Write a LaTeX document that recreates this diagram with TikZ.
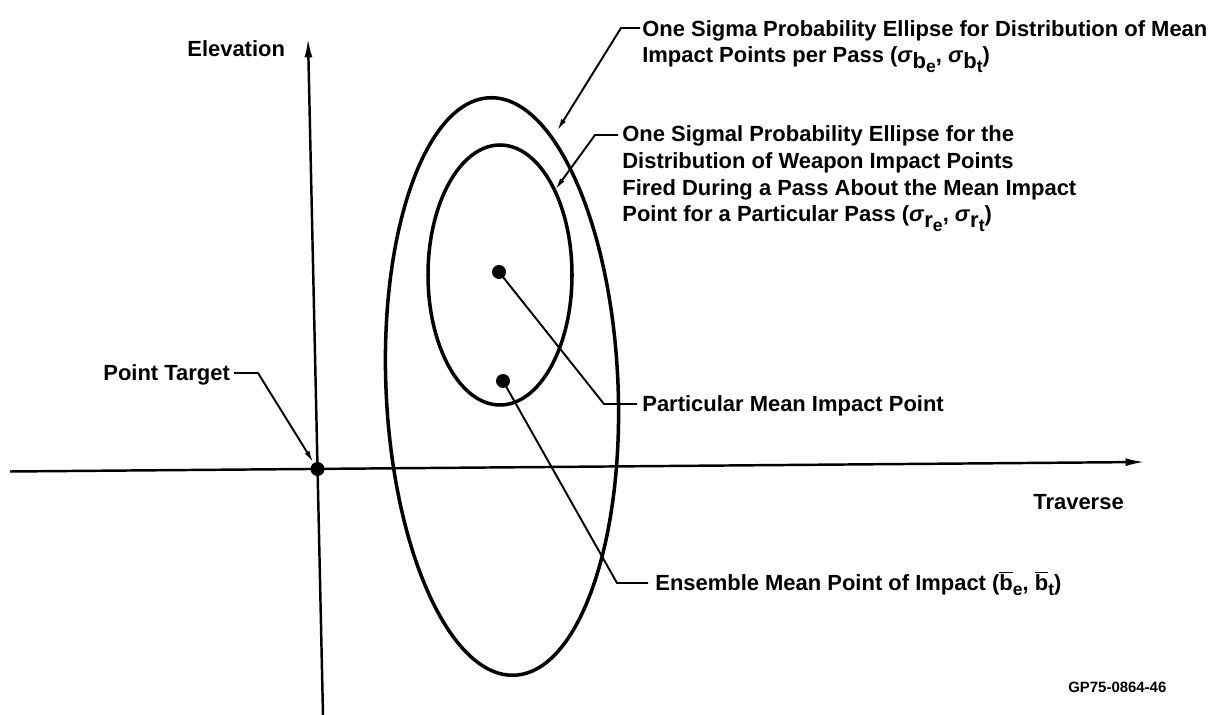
\documentclass[tikz,border=0pt]{standalone}
\usepackage{fontspec}
\setmainfont{Liberation Sans}
\usetikzlibrary{arrows.meta}
\newcommand\dn[1]{\raisebox{-0.45ex}{#1}}
\newcommand\dnn[1]{\raisebox{-0.35ex}{\fontsize{10}{10}\selectfont #1}}
\newcommand\bb{\ensuremath{\overline{\mbox{b}}}}
\begin{document}
\begin{tikzpicture}[x=0.02cm,y=-0.02cm,
  lbl/.style={font=\fontsize{12.5}{15.2}\selectfont\bfseries, inner sep=0pt, anchor=base west, align=left},
  axis/.style={line width=1.4pt, -{Latex[length=11pt,width=4.5pt]}},
  ell/.style={line width=2pt},
  lead/.style={line width=1.1pt},
  tip/.style={-{Latex[length=7pt,width=3pt]}},
  dot/.style={circle, fill, inner sep=0pt, minimum size=0.28cm}]
\useasboundingbox (0,0) rectangle (1221,715);
% axes
\coordinate (ya) at (323,715);
\coordinate (yb) at (308,38);
\coordinate (xa) at (10,471.5);
\coordinate (xb) at (1145,462);
\draw[axis] (ya) -- (yb);
\draw[axis] (xa) -- (xb);
% ellipses
\draw[ell, rotate around={2.5:(502,386.5)}] (502,386.5) ellipse [x radius=116, y radius=289];
\draw[ell] (500,275) ellipse [x radius=72, y radius=130];
% dots
\node[dot] (pt) at (317.5,469) {};
\node[dot] (pm) at (499,272) {};
\node[dot] (em) at (503,381) {};
% labels
\node[lbl] (elev) at (187,57) {Elevation};
\node[lbl] (trav) at (1033,510) {Traverse};
\node[lbl] (ptl) at (103,381) {Point Target};
\node[lbl] (l1) at (642,63) {One Sigma Probability Ellipse for Distribution of Mean\\Impact Points per Pass (\textit{σ}\dn{b\dnn{e}}, \textit{σ}\dn{b\dnn{t}})};
\node[lbl] (l2) at (622,222) {One Sigmal Probability Ellipse for the\\Distribution of Weapon Impact Points\\Fired During a Pass About the Mean Impact\\Point for a Particular Pass (\textit{σ}\dn{r\dnn{e}}, \textit{σ}\dn{r\dnn{t}})};
\node[lbl] (l3) at (642,412) {Particular Mean Impact Point};
\node[lbl] (l4) at (655,591) {Ensemble Mean Point of Impact (\bb\dnn{e}, \bb\dnn{t})};
\node[font=\fontsize{8.5}{10}\selectfont\bfseries, inner sep=0pt, anchor=base west] (code) at (1068,693) {GP75-0864-46};
% leaders
\coordinate (ptk) at (258,373);
\coordinate (ok) at (621,28);
\coordinate (oe) at (557,131);
\coordinate (ik) at (595,135);
\coordinate (ie) at (555,190);
\coordinate (pk) at (604,404);
\coordinate (ek) at (617,583);
\draw[lead,tip] (ptl.east |- ptk) ++(4,0) -- (ptk) -- (pt);
\draw[lead,tip] (l1.west |- ok) ++(-2,0) -- (ok) -- (oe);
\draw[lead,tip] (l2.west |- ik) ++(-4,0) -- (ik) -- (ie);
\draw[lead] (l3.west |- pk) ++(-5,0) -- (pk) -- (pm.center);
\draw[lead] (l4.west |- ek) ++(-7,0) -- (ek) -- (em.center);
\end{tikzpicture}
\end{document}
